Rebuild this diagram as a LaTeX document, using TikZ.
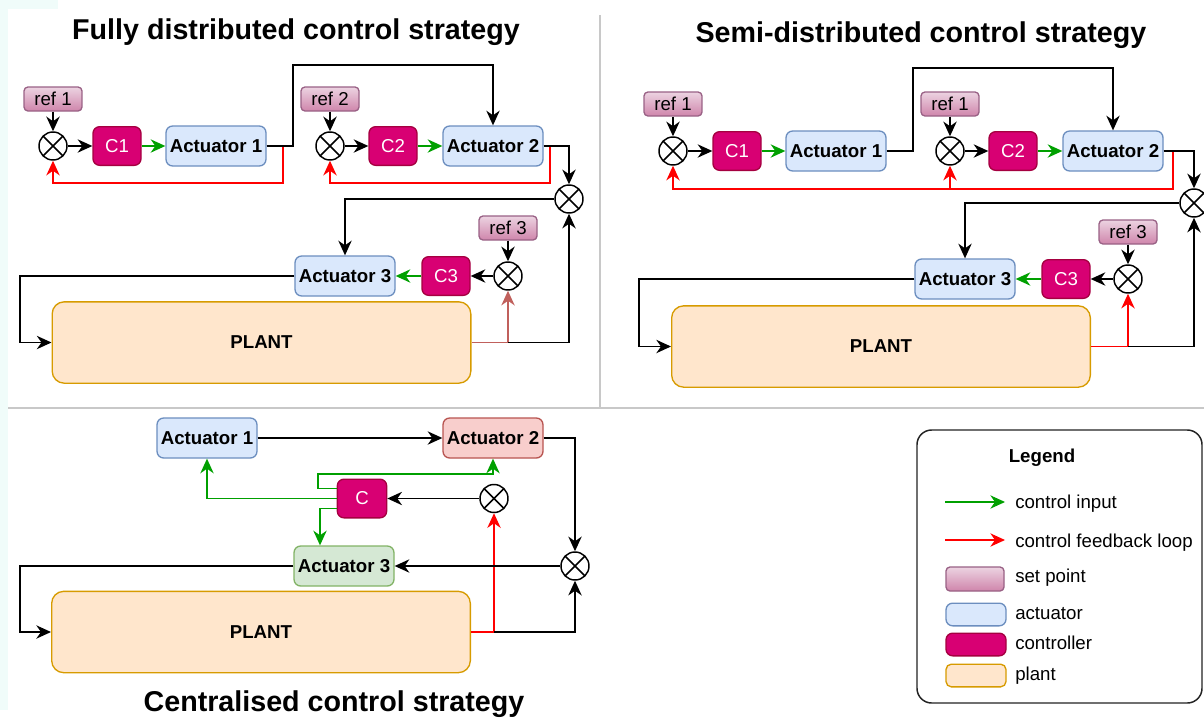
\documentclass[tikz,border=0pt]{standalone}
\usepackage{fontspec}
\setmainfont{Liberation Sans}
\usetikzlibrary{arrows.meta,calc}

\definecolor{refTop}{HTML}{ECD3E1}
\definecolor{refBot}{HTML}{CF85AB}
\definecolor{refDraw}{HTML}{996185}
\definecolor{ctrlFill}{HTML}{D80073}
\definecolor{ctrlDraw}{HTML}{A50040}
\definecolor{actFill}{HTML}{DAE8FC}
\definecolor{actDraw}{HTML}{6C8EBF}
\definecolor{actRedFill}{HTML}{F8CECC}
\definecolor{actRedDraw}{HTML}{B85450}
\definecolor{actGreenFill}{HTML}{D5E8D4}
\definecolor{actGreenDraw}{HTML}{82B366}
\definecolor{plantFill}{HTML}{FFE6CC}
\definecolor{plantDraw}{HTML}{D79B00}
\definecolor{ctlGreen}{HTML}{00A000}
\definecolor{fbRed}{HTML}{FF0000}
\definecolor{fbBrown}{HTML}{C0605C}
\definecolor{divGray}{HTML}{C8C8C8}
\definecolor{stripCol}{HTML}{F0FCFA}
\definecolor{legDraw}{HTML}{222222}

\tikzset{
  box/.style={rectangle, rounded corners=5pt, draw, line width=1pt, inner sep=0pt, align=center},
  act/.style={box, fill=actFill, draw=actDraw, minimum width=75pt, minimum height=30pt,
              font=\fontsize{14}{16}\selectfont\bfseries},
  ctrl/.style={box, fill=ctrlFill, draw=ctrlDraw, text=white, minimum width=36pt, minimum height=29pt,
               font=\fontsize{14}{16}\selectfont},
  setpt/.style={box, rounded corners=3pt, top color=refTop, bottom color=refBot, draw=refDraw,
                minimum width=43.5pt, minimum height=18pt, font=\fontsize{14}{16}\selectfont},
  plantbox/.style={box, rounded corners=9pt, fill=plantFill, draw=plantDraw, minimum width=314pt,
                   minimum height=61pt, font=\fontsize{14}{16}\selectfont\bfseries},
  sumj/.style={circle, draw, line width=1.1pt, fill=white, minimum size=21pt, inner sep=0pt,
               path picture={\draw[line width=1.1pt]
                 (path picture bounding box.south west) -- (path picture bounding box.north east)
                 (path picture bounding box.north west) -- (path picture bounding box.south east);}},
  tip/.tip={Stealth[length=11pt,width=10pt,inset=3.5pt]},
  sig/.style={-tip, line width=1.15pt},
  ctl/.style={sig, draw=ctlGreen},
  fb/.style={sig, draw=fbRed},
  fbp/.style={sig, draw=fbBrown},
  heading/.style={font=\fontsize{21.5}{24}\selectfont\bfseries, inner sep=0pt, anchor=base},
  legtext/.style={font=\fontsize{14}{16}\selectfont, inner sep=0pt, anchor=base west},
  legarrow/.style={-tip, line width=0.9pt},
  divider/.style={draw=divGray, line width=1.5pt}
}

\begin{document}
\begin{tikzpicture}[x=0.75pt, y=-0.75pt]
\useasboundingbox (0,0) rectangle (1204,718);

% pale margin strip
\fill[stripCol] (0,0) rectangle (8,710);
\fill[stripCol] (0,0) rectangle (58,9);

% panel dividers
\draw[divider] (600,15) -- (600,408);
\draw[divider] (8,408) -- (1204,408);

% ---------- fully distributed ----------
\node[heading] (ttlF) at (296,39) {Fully distributed control strategy};

\node[setpt] (fr1) at (53,99) {ref 1};
\node[sumj]  (fs1) at (53,146) {};
\node[ctrl]  (fc1) at (117,146) {C1};
\node[act]   (fa1) at (216,146) {Actuator 1};
\node[setpt] (fr2) at (330,99) {ref 2};
\node[sumj]  (fs2) at (330,146) {};
\node[ctrl]  (fc2) at (393,146) {C2};
\node[act]   (fa2) at (493,146) {Actuator 2};
\node[sumj]  (fs3) at (569,199) {};
\node[setpt] (fr3) at (508,228) {ref 3};
\node[sumj]  (fs4) at (508,276) {};
\node[ctrl]  (fc3) at (446,276) {C3};
\node[act]   (fa3) at (345,276) {Actuator 3};
\node[plantbox] (fp) at (261.5,342.5) {PLANT};

\draw[fb] (fa1.east) -- (283,146) -- (283,183) -| (fs1);
\draw[fb] (fa2.east) -- (550,146) -- (550,183) -| (fs2);
\draw[sig] (fr1) -- (fs1);
\draw[sig] (fs1) -- (fc1);
\draw[ctl] (fc1) -- (fa1);
\draw[sig] (fa1.east) -- (293,146) -- (293,65) -| (fa2);
\draw[sig] (fr2) -- (fs2);
\draw[sig] (fs2) -- (fc2);
\draw[ctl] (fc2) -- (fa2);
\draw[sig] (fa2.east) -| (fs3);
\draw[sig] (fs3) -| (fa3);
\draw[sig] (fr3) -- (fs4);
\draw[sig] (fs4) -- (fc3);
\draw[ctl] (fc3) -- (fa3);
\draw[sig] (fa3.west) -- (20,276) |- (fp);
\draw[fbp] (fp.east) -| (fs4);
\draw[sig] (fp.east -| fs4) -| (fs3);

% ---------- semi-distributed ----------
\node[heading] (ttlS) at (921,42) {Semi-distributed control strategy};

\node[setpt] (tr1) at (673,104) {ref 1};
\node[sumj]  (ts1) at (673,151) {};
\node[ctrl]  (tc1) at (737,151) {C1};
\node[act]   (ta1) at (836,151) {Actuator 1};
\node[setpt] (tr2) at (950,104) {ref 1};
\node[sumj]  (ts2) at (950,151) {};
\node[ctrl]  (tc2) at (1013,151) {C2};
\node[act]   (ta2) at (1113,151) {Actuator 2};
\node[sumj]  (ts3) at (1194,203) {};
\node[setpt] (tr3) at (1128,232) {ref 3};
\node[sumj]  (ts4) at (1128,279) {};
\node[ctrl]  (tc3) at (1066,279) {C3};
\node[act]   (ta3) at (965,279) {Actuator 3};
\node[plantbox] (tp) at (881,346.5) {PLANT};

\coordinate (tfb) at (950,189);
\draw[fb] (ta2.east) -- (1173,151) -- (1173,189) -| (ts1);
\draw[fb] (tfb) -- (ts2);
\draw[sig] (tr1) -- (ts1);
\draw[sig] (ts1) -- (tc1);
\draw[ctl] (tc1) -- (ta1);
\draw[sig] (ta1.east) -- (913,151) -- (913,68) -| (ta2);
\draw[sig] (tr2) -- (ts2);
\draw[sig] (ts2) -- (tc2);
\draw[ctl] (tc2) -- (ta2);
\draw[sig] (ta2.east) -| (ts3);
\draw[sig] (ts3) -| (ta3);
\draw[sig] (tr3) -- (ts4);
\draw[sig] (ts4) -- (tc3);
\draw[ctl] (tc3) -- (ta3);
\draw[sig] (ta3.west) -- (639,279) |- (tp);
\draw[fb] (tp.east) -| (ts4);
\draw[sig] (tp.east -| ts4) -| (ts3);

% ---------- centralised ----------
\node[heading] (ttlC) at (334,711) {Centralised control strategy};

\node[act] (ba1) at (207,438) {Actuator 1};
\node[act, fill=actRedFill, draw=actRedDraw] (ba2) at (493,438) {Actuator 2};
\node[ctrl, minimum width=37pt] (bc) at (362,498.5) {C};
\node[sumj] (bs1) at (494,498.5) {};
\node[sumj] (bs2) at (575,566) {};
\node[act, fill=actGreenFill, draw=actGreenDraw] (ba3) at (344,566) {Actuator 3};
\node[plantbox] (bp) at (261,632) {PLANT};

\draw[fb] (bp.east) -| (bs1);
\draw[sig] (ba1) -- (ba2);
\draw[sig] (ba2.east) -| (bs2);
\draw[sig] (bs1) -- (bc);
\draw[sig] (bs2) -- (ba3);
\draw[ctl] (bc.west) -| (ba1);
\draw[ctl] ($(bc.west)+(0,-10)$) -- (318,488.5) -- (318,474) -| (ba2);
\draw[ctl] ($(bc.west)+(0,10)$) -- (320,508.5) -- ($(ba3.north)+(-24,0)$);
\draw[sig] (bp.east -| bs1) -| (bs2);
\draw[sig] (ba3.west) -- (20,566) |- (bp);

% ---------- legend ----------
\node[draw=legDraw, line width=1.1pt, rounded corners=11pt, fill=white,
      minimum width=213.75pt, minimum height=204.75pt, inner sep=0pt] (leg) at (1059.5,566.5) {};
\node[font=\fontsize{14}{16}\selectfont\bfseries, inner sep=0pt, anchor=base] (legT) at (1042,462) {Legend};

\coordinate (lg0) at (945,502);
\coordinate (lg1) at (1005,502);
\draw[legarrow, draw=ctlGreen] (lg0) -- (lg1);
\node[legtext] (lgT) at (1015,508) {control input};

\coordinate (lr0) at (945,540);
\coordinate (lr1) at (1005,540);
\draw[legarrow, draw=fbRed] (lr0) -- (lr1);
\node[legtext] (lrT) at (1015,547) {control feedback loop};

\node[setpt] (lsp) at (975,579) {};
\node[legtext] (lspT) at (1015,582) {set point};
\node[act, minimum width=45pt, minimum height=17pt] (lac) at (976,614.5) {};
\node[legtext] (lacT) at (1015,619) {actuator};
\node[ctrl, minimum width=45pt, minimum height=17pt] (lct) at (976,644.5) {};
\node[legtext] (lctT) at (1015,649) {controller};
\node[plantbox, rounded corners=4pt, minimum width=45pt, minimum height=17pt] (lpl) at (976,675.5) {};
\node[legtext] (lplT) at (1015,680) {plant};
\end{tikzpicture}
\end{document}
